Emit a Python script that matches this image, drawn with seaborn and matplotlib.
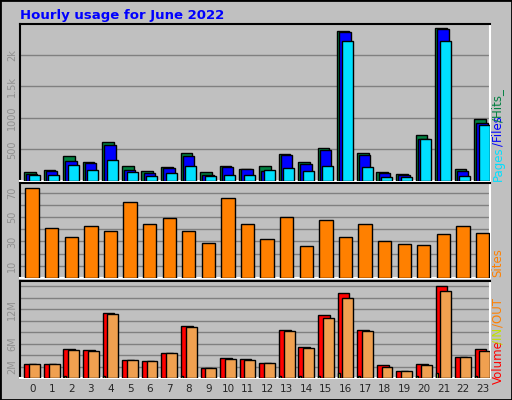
import matplotlib
matplotlib.use("Agg")
import matplotlib.pyplot as plt
import seaborn as sns
import numpy as np

hours = list(range(24))
hits = [144,181,404,309,612,245,165,229,452,149,245,197,245,436,309,516,2383,452,149,117,723,2431,197,979]
files = [112,165,324,293,564,181,133,213,404,101,229,197,165,420,277,484,2367,420,133,101,660,2410,165,915]
pages = [101,101,261,181,340,149,85,133,245,85,101,101,181,213,165,245,2223,229,69,69,660,2223,85,883]
sites = [74,41,34,43,39,62,44,49,39,29,66,44,32,50,26,48,34,44,30,28,27,36,43,37]
volume = [2.5,2.5,5.0,4.9,11.4,3.1,2.9,4.3,9.1,1.7,3.4,3.3,2.7,8.4,5.4,10.9,14.8,8.4,2.2,1.3,2.5,16.0,3.6,5.0]
vol_out = [2.4,2.4,4.85,4.7,11.1,3.1,2.9,4.3,8.9,1.7,3.25,3.1,2.7,8.2,5.2,10.5,13.9,8.2,2.0,1.3,2.2,15.1,3.6,4.7]
vol_in = [0.05,0.05,0.3,0.05,0.3,0.05,0.05,0.05,0.3,0.05,0.05,0.05,0.05,0.3,0.3,0.3,0.9,0.3,0.05,0.05,0.3,0.9,0.05,0.3]

sns.set_style("white")
plt.rcParams['font.family'] = ['DejaVu Sans']
BG = '#C0C0C0'
fig = plt.figure(figsize=(5.12, 4.0), dpi=100)
fig.patch.set_facecolor(BG)
fig.patches.append(plt.Rectangle((0, 0), 1, 1, transform=fig.transFigure, fill=False, ec='black', lw=2))
fig.text(20/512, 1-15/400, "Hourly usage for June 2022", color='#0000FF', fontsize=9.5, fontweight='bold', va='center')

L, W = 20/512, 470/512
ax1 = fig.add_axes([L, 1-181/400, W, 157/400])
ax2 = fig.add_axes([L, 1-278/400, W, 95/400])
ax3 = fig.add_axes([L, 1-378/400, W, 97/400])

def bars(ax, offs, vals, color, width):
    x = [h + offs for h in hours]
    sns.barplot(x=x, y=vals, native_scale=True, width=width, color=color,
                edgecolor='black', linewidth=1, saturation=1, ax=ax, zorder=3)

bars(ax1, -0.12, hits, '#008040', 0.6)
bars(ax1, -0.02, files, '#0000FF', 0.58)
bars(ax1, 0.1, pages, '#00E0FF', 0.56)
bars(ax2, 0.0, sites, '#FF8000', 0.68)
bars(ax3, -0.1, volume, '#FF0000', 0.6)
bars(ax3, 0.12, vol_out, '#F0A050', 0.56)
bars(ax3, -0.33, vol_in, '#E0F040', 0.1)

ax1.set_ylim(0, 2490); ax2.set_ylim(0, 78); ax3.set_ylim(0, 16.9)
ax1.set_yticks([500, 1000, 1500, 2000]); ax1.set_yticklabels(['500', '1000', '1.5k', '2k'])
ax2.set_yticks(range(10, 80, 10)); ax2.set_yticklabels(['10', '', '30', '', '50', '', '70'])
ax3.set_yticks(range(2, 17, 2)); ax3.set_yticklabels(['2M', '', '6M', '', '', '12M', '', ''])
for ax in (ax1, ax2, ax3):
    ax.set_facecolor(BG)
    ax.set_xlim(-0.62, 23.38)
    ax.grid(axis='y', color='#808080', lw=1, zorder=0)
    ax.set_axisbelow(True)
    ax.tick_params(axis='y', length=0, labelsize=7, labelcolor='#909090', labelrotation=90, pad=2)
    for lbl in ax.get_yticklabels():
        lbl.set_va('center')
    for s in ax.spines.values():
        s.set_color('white'); s.set_linewidth(1.5)
    ax.spines['left'].set_color('black'); ax.spines['top'].set_color('black')
    ax.set_xlabel(''); ax.set_ylabel('')
ax1.set_xticks([]); ax2.set_xticks([])
ax3.set_xticks(hours); ax3.set_xticklabels([str(h) for h in hours])
ax3.tick_params(axis='x', length=0, labelsize=7.5, pad=4)

def vtext(y, s, c):
    fig.text(498/512, 1-y/400, s, color=c, rotation=90, fontsize=8.5, va='bottom', ha='center')
vtext(181, "Pages", '#00E0FF')
vtext(146, "/Files", '#0000FF')
vtext(122, "/Hits_", '#008040')
vtext(277, "Sites", '#FF8000')
vtext(384, "Volume", '#FF0000')
vtext(344, "/IN", '#C0E000')
vtext(327, "/OUT", '#FF8000')

fig.savefig("out.png", dpi=100, facecolor=BG)
